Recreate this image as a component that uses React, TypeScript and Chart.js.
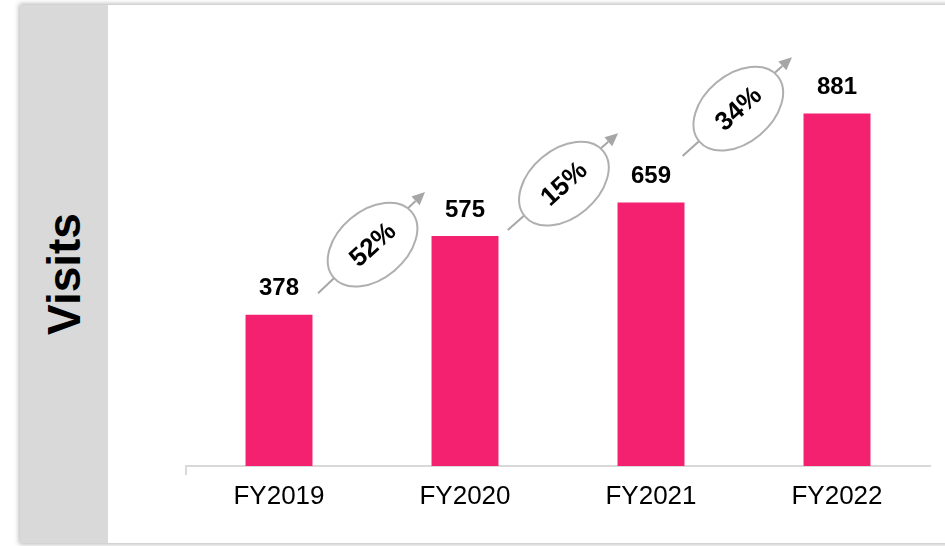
import React, { useEffect, useRef } from "react";
import { Chart, registerables } from "chart.js";

Chart.register(...registerables);

const categories = ["FY2019", "FY2020", "FY2021", "FY2022"];
const visits = [378, 575, 659, 881];
const growthLabels = ["52%", "15%", "34%"];
// arrow endpoints: x in category-index units, y in data units
const arrowStartX = [0.21, 1.23, 2.17];
const arrowEndX = [0.785, 1.823, 2.758];
const arrowStartY = [432, 590, 775];
const arrowEndY = [685, 832, 1022];

const FONT = 'Arial, "Liberation Sans", sans-serif';
const PINK = "#F3216F";
const ARROW_GRAY = "#A6A6A6";

const overlayPlugin = {
  id: "overlay",
  afterDatasetsDraw(chart: any) {
    const ctx = chart.ctx as CanvasRenderingContext2D;
    const xs = chart.scales.x;
    const ys = chart.scales.y;
    const area = chart.chartArea;
    ctx.save();
    // left tick on the axis
    ctx.strokeStyle = "#D9D9D9";
    ctx.lineWidth = 2;
    ctx.beginPath();
    ctx.moveTo(area.left, area.bottom);
    ctx.lineTo(area.left, area.bottom + 9);
    ctx.stroke();

    // value labels
    const meta = chart.getDatasetMeta(0);
    ctx.fillStyle = "#000";
    ctx.font = `bold 24px ${FONT}`;
    ctx.textAlign = "center";
    ctx.textBaseline = "middle";
    meta.data.forEach((bar: any, i: number) => {
      ctx.fillText(String(visits[i]), bar.x, bar.y - 26);
    });

    // growth arrows
    growthLabels.forEach((lbl, i) => {
      const x0 = xs.getPixelForValue(arrowStartX[i]);
      const x1 = xs.getPixelForValue(arrowEndX[i]);
      const y0 = ys.getPixelForValue(arrowStartY[i]);
      const y1 = ys.getPixelForValue(arrowEndY[i]);
      const ang = Math.atan2(y1 - y0, x1 - x0);
      const headLen = 13;
      const hx = x1 - headLen * Math.cos(ang);
      const hy = y1 - headLen * Math.sin(ang);
      ctx.strokeStyle = ARROW_GRAY;
      ctx.fillStyle = ARROW_GRAY;
      ctx.lineWidth = 2;
      ctx.beginPath();
      ctx.moveTo(x0, y0);
      ctx.lineTo(hx, hy);
      ctx.stroke();
      ctx.beginPath();
      ctx.moveTo(x1, y1);
      ctx.lineTo(hx + 6 * Math.sin(ang), hy - 6 * Math.cos(ang));
      ctx.lineTo(hx - 6 * Math.sin(ang), hy + 6 * Math.cos(ang));
      ctx.closePath();
      ctx.fill();
      // ellipse
      const cx = (x0 + x1) / 2 + 1;
      const cy = (y0 + y1) / 2 + 2;
      ctx.beginPath();
      ctx.ellipse(cx, cy, 51, 34, (-40 * Math.PI) / 180, 0, Math.PI * 2);
      ctx.fillStyle = "#FFFFFF";
      ctx.fill();
      ctx.lineWidth = 2;
      ctx.strokeStyle = "#AFAFAF";
      ctx.stroke();
      // text
      ctx.save();
      ctx.translate(cx, cy);
      ctx.rotate((-42 * Math.PI) / 180);
      ctx.fillStyle = "#000";
      ctx.font = `bold 26px ${FONT}`;
      ctx.textAlign = "center";
      ctx.textBaseline = "middle";
      ctx.fillText(lbl, 0, 1);
      ctx.restore();
    });
    ctx.restore();
  },
};

export default function App() {
  const ref = useRef<HTMLCanvasElement | null>(null);
  useEffect(() => {
    if (!ref.current) return;
    const chart = new Chart(ref.current, {
      type: "bar",
      data: {
        labels: categories,
        datasets: [
          {
            data: visits,
            backgroundColor: PINK,
            borderWidth: 0,
            categoryPercentage: 1,
            barPercentage: 0.36,
          },
        ],
      },
      options: {
        responsive: false,
        animation: false,
        events: [],
        layout: { padding: { left: 186, right: 15, top: 66, bottom: 0 } },
        plugins: { legend: { display: false }, tooltip: { enabled: false } },
        scales: {
          x: {
            afterFit(scale: any) {
              scale.height = 80;
            },
            grid: { display: false, drawTicks: false },
            border: { display: true, color: "#D9D9D9", width: 2 },
            ticks: {
              color: "#000",
              padding: 15,
              font: { family: FONT, size: 26 },
            },
          },
          y: { display: false, min: 0, max: 1000 },
        },
      },
      plugins: [overlayPlugin],
    });
    return () => chart.destroy();
  }, []);

  return (
    <div style={{ position: "absolute", left: 0, top: 0, width: 945, height: 546, overflow: "hidden", background: "#fff" }}>
      <div
        style={{
          position: "absolute",
          left: 20,
          top: 5,
          width: 940,
          height: 538,
          background: "#fff",
          boxShadow: "0 0 5px 1px rgba(0,0,0,0.3)",
        }}
      />
      <div style={{ position: "absolute", left: 20, top: 5, width: 88, height: 538, background: "#D9D9D9" }} />
      <div
        style={{
          position: "absolute",
          left: 64,
          top: 274,
          transform: "translate(-50%, -50%) rotate(-90deg)",
          fontFamily: FONT,
          fontWeight: "bold",
          fontSize: 46,
          color: "#000",
          whiteSpace: "nowrap",
          lineHeight: 1,
        }}
      >
        Visits
      </div>
      <canvas ref={ref} width={945} height={546} style={{ position: "absolute", left: 0, top: 0 }} />
    </div>
  );
}
